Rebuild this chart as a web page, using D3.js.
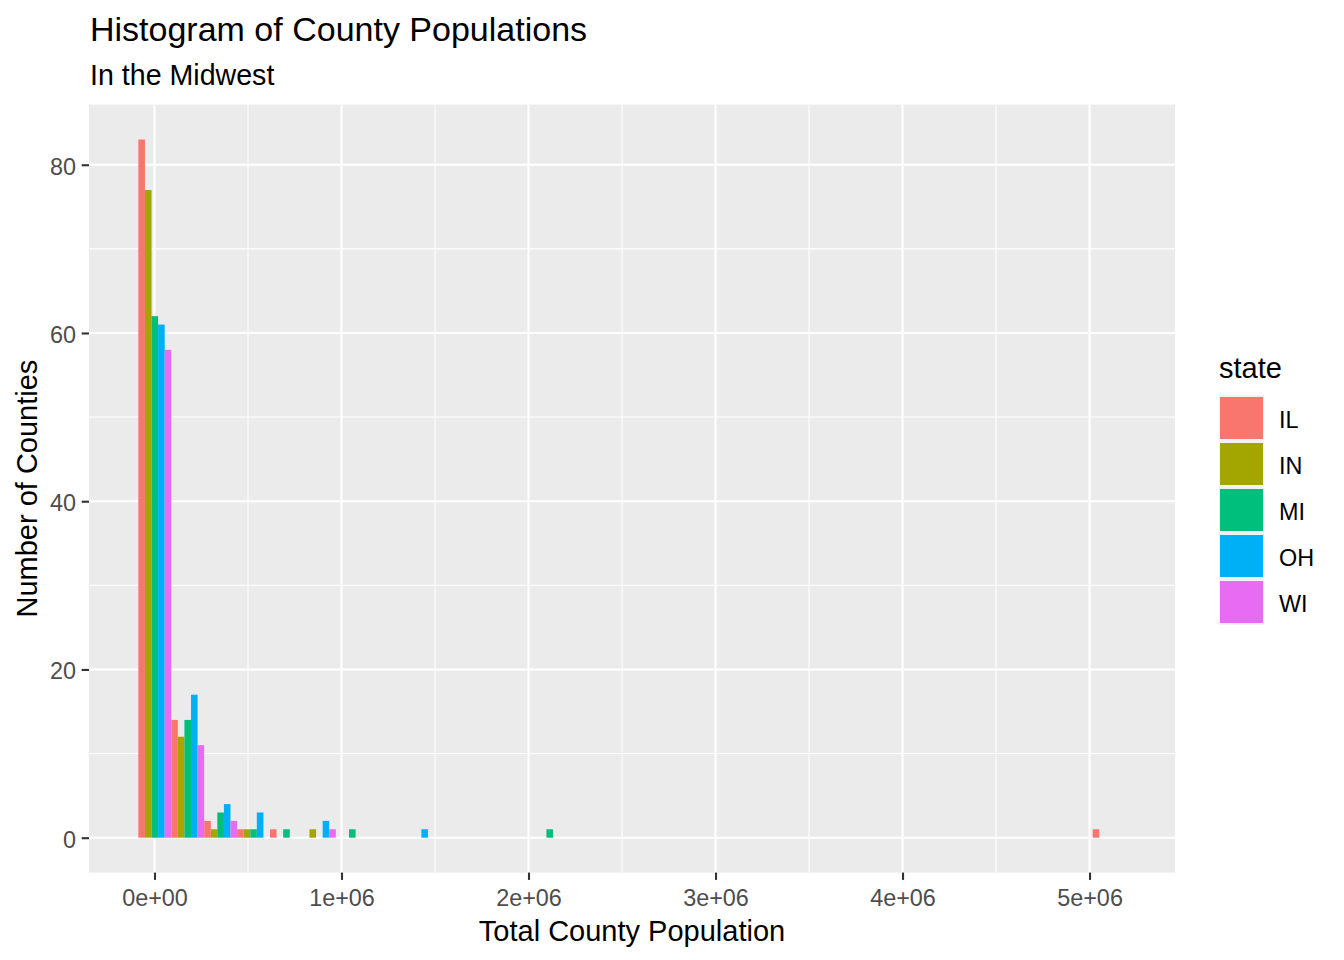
<!DOCTYPE html>
<html>
<head>
<meta charset="utf-8">
<script src="https://cdn.jsdelivr.net/npm/d3@7"></script>
<style>
  html, body { margin: 0; padding: 0; background: #ffffff; }
  svg text { font-family: "Liberation Sans", Arial, sans-serif; }
</style>
</head>
<body>
<svg id="chart" width="1344" height="960"></svg>
<script>
// ---- data ----
const states = ["IL", "IN", "MI", "OH", "WI"];
const stateColors = ["#F8766D", "#A3A500", "#00BF7D", "#00B0F6", "#E76BF3"];
// histogram definition: 30 bins, first bin centred on the smallest county, last on the largest
const popMin = 1701;
const popMax = 5105067;
const binCount = 30;
// counts per bin (bin index 0..29) for each state
const countsIL = [83, 14, 2, 1, 1, 0, 0, 0, 0, 0, 0, 0, 0, 0, 0, 0, 0, 0, 0, 0, 0, 0, 0, 0, 0, 0, 0, 0, 0, 1];
const countsIN = [77, 12, 1, 1, 0, 1, 0, 0, 0, 0, 0, 0, 0, 0, 0, 0, 0, 0, 0, 0, 0, 0, 0, 0, 0, 0, 0, 0, 0, 0];
const countsMI = [62, 14, 3, 1, 1, 0, 1, 0, 0, 0, 0, 0, 1, 0, 0, 0, 0, 0, 0, 0, 0, 0, 0, 0, 0, 0, 0, 0, 0, 0];
const countsOH = [61, 17, 4, 3, 0, 2, 0, 0, 1, 0, 0, 0, 0, 0, 0, 0, 0, 0, 0, 0, 0, 0, 0, 0, 0, 0, 0, 0, 0, 0];
const countsWI = [58, 11, 2, 0, 0, 1, 0, 0, 0, 0, 0, 0, 0, 0, 0, 0, 0, 0, 0, 0, 0, 0, 0, 0, 0, 0, 0, 0, 0, 0];
const xTicks = [0, 1e6, 2e6, 3e6, 4e6, 5e6];
const xTickLabels = ["0e+00", "1e+06", "2e+06", "3e+06", "4e+06", "5e+06"];
const xMinor = [0.5e6, 1.5e6, 2.5e6, 3.5e6, 4.5e6];
const yTicks = [0, 20, 40, 60, 80];
const yMinor = [10, 30, 50, 70];
const titleText = "Histogram of County Populations";
const subtitleText = "In the Midwest";
const xTitle = "Total County Population";
const yTitle = "Number of Counties";
const legendTitle = "state";

// ---- build table ----
const countsByState = [countsIL, countsIN, countsMI, countsOH, countsWI];
const binWidth = (popMax - popMin) / (binCount - 1);
const binStart = popMin - binWidth / 2;
const rows = [];
countsByState.forEach((arr, si) => {
  arr.forEach((c, bi) => {
    if (c > 0) rows.push({ state: states[si], bin: bi, count: c,
      x0: binStart + bi * binWidth, x1: binStart + (bi + 1) * binWidth });
  });
});

// ---- layout ----
const panel = { left: 89, right: 1175, top: 104.6, bottom: 872.6 };
const svg = d3.select("#chart");

const dataX0 = binStart, dataX1 = binStart + binCount * binWidth;
const padX = (dataX1 - dataX0) * 0.05;
const x = d3.scaleLinear().domain([dataX0 - padX, dataX1 + padX]).range([panel.left, panel.right]);
const maxCount = d3.max(rows, d => d.count);
const padY = maxCount * 0.05;
const y = d3.scaleLinear().domain([-padY, maxCount + padY]).range([panel.bottom, panel.top]);
const color = d3.scaleOrdinal().domain(states).range(stateColors);
const dodge = d3.scaleBand().domain(states).range([0, 1]).padding(0);

// panel background
svg.append("rect").attr("x", panel.left).attr("y", panel.top)
  .attr("width", panel.right - panel.left).attr("height", panel.bottom - panel.top)
  .attr("fill", "#EBEBEB");

const grid = svg.append("g");
grid.selectAll(".xminor").data(xMinor).enter().append("line")
  .attr("x1", d => x(d)).attr("x2", d => x(d)).attr("y1", panel.top).attr("y2", panel.bottom)
  .attr("stroke", "#ffffff").attr("stroke-width", 1.05);
grid.selectAll(".yminor").data(yMinor).enter().append("line")
  .attr("y1", d => y(d)).attr("y2", d => y(d)).attr("x1", panel.left).attr("x2", panel.right)
  .attr("stroke", "#ffffff").attr("stroke-width", 1.05);
grid.selectAll(".xmajor").data(xTicks).enter().append("line")
  .attr("x1", d => x(d)).attr("x2", d => x(d)).attr("y1", panel.top).attr("y2", panel.bottom)
  .attr("stroke", "#ffffff").attr("stroke-width", 2.1);
grid.selectAll(".ymajor").data(yTicks).enter().append("line")
  .attr("y1", d => y(d)).attr("y2", d => y(d)).attr("x1", panel.left).attr("x2", panel.right)
  .attr("stroke", "#ffffff").attr("stroke-width", 2.1);

// bars
svg.append("g").selectAll("rect").data(rows).enter().append("rect")
  .attr("x", d => x(d.x0 + dodge(d.state) * (d.x1 - d.x0)))
  .attr("width", d => x(d.x0 + (dodge(d.state) + dodge.bandwidth()) * (d.x1 - d.x0)) - x(d.x0 + dodge(d.state) * (d.x1 - d.x0)))
  .attr("y", d => y(d.count))
  .attr("height", d => y(0) - y(d.count))
  .attr("fill", d => color(d.state));

// axes
const xAxis = d3.axisBottom(x).tickValues(xTicks).tickFormat((d, i) => xTickLabels[i])
  .tickSizeInner(7.3).tickSizeOuter(0).tickPadding(5);
const gx = svg.append("g").attr("transform", `translate(0,${panel.bottom})`).call(xAxis);
gx.select(".domain").remove();
gx.selectAll(".tick line").attr("stroke", "#333333").attr("stroke-width", 2.1);
gx.selectAll(".tick text").attr("fill", "#4D4D4D").style("font-size", "23.4px")
  .attr("dy", null).attr("y", 33.5);

const yAxis = d3.axisLeft(y).tickValues(yTicks).tickSizeInner(7.3).tickSizeOuter(0).tickPadding(5.6);
const gy = svg.append("g").attr("transform", `translate(${panel.left},0)`).call(yAxis);
gy.select(".domain").remove();
gy.selectAll(".tick line").attr("stroke", "#333333").attr("stroke-width", 2.1);
gy.selectAll(".tick text").attr("fill", "#4D4D4D").style("font-size", "23.4px").attr("dy", "0.4em");

// titles
svg.append("text").attr("x", 90).attr("y", 41).style("font-size", "34px").attr("fill", "#000")
  .text(titleText);
svg.append("text").attr("x", 90).attr("y", 85).style("font-size", "28.6px").attr("fill", "#000")
  .text(subtitleText);
svg.append("text").attr("x", (panel.left + panel.right) / 2).attr("y", 940.5)
  .attr("text-anchor", "middle").style("font-size", "29px").attr("fill", "#000").text(xTitle);
svg.append("text").attr("transform", `translate(37,${(panel.top + panel.bottom) / 2}) rotate(-90)`)
  .attr("text-anchor", "middle").style("font-size", "29px").attr("fill", "#000").text(yTitle);

// legend
const lg = svg.append("g");
lg.append("text").attr("x", 1219).attr("y", 378).style("font-size", "29px").attr("fill", "#000")
  .text(legendTitle);
const keyTop = 395, keyPitch = 46, keyW = 45, keyH = 46;
const items = lg.selectAll(".key").data(states).enter().append("g")
  .attr("transform", (d, i) => `translate(1219,${keyTop + i * keyPitch})`);
items.append("rect").attr("width", keyW).attr("height", keyH).attr("fill", "#F2F2F2");
items.append("rect").attr("x", 1).attr("y", 2).attr("width", keyW - 2).attr("height", keyH - 4)
  .attr("fill", d => color(d));
items.append("text").attr("x", 60).attr("y", keyH / 2).attr("dy", "0.43em")
  .style("font-size", "23.4px").attr("fill", "#000").text(d => d);
</script>
</body>
</html>
